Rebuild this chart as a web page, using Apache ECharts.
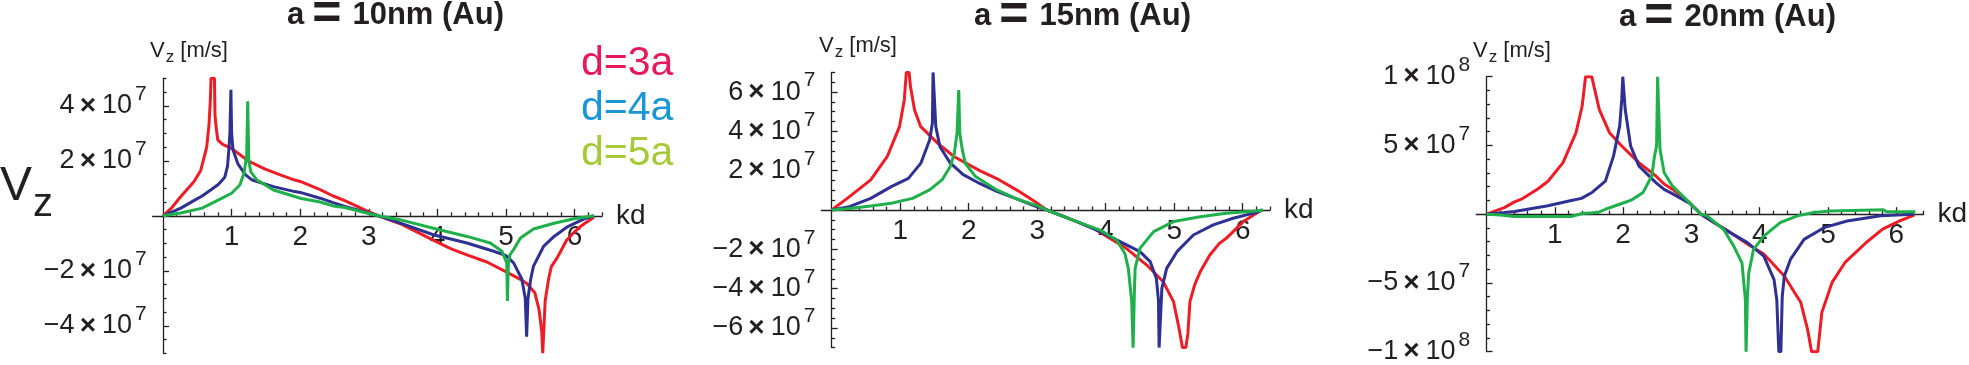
<!DOCTYPE html>
<html><head><meta charset="utf-8">
<script src="https://cdn.jsdelivr.net/npm/echarts@6/dist/echarts.min.js"></script>
<style>html,body{margin:0;padding:0;background:#fff}#c{width:1969px;height:365px}</style>
</head><body><div id="c"></div>
<script>
// ---------- data (y values in units of 10^7 m/s, x = kd) ----------
const seriesNames = ['d=3a', 'd=4a', 'd=5a'];
const panelTitles = [['a', '10nm (Au)'], ['a', '15nm (Au)'], ['a', '20nm (Au)']];
const xRange = [-0.15, 6.4];
const xTicks = [1, 2, 3, 4, 5, 6];
const xMinor = [0.2,0.4,0.6,0.8,1.2,1.4,1.6,1.8,2.2,2.4,2.6,2.8,3.2,3.4,3.6,3.8,4.2,4.4,4.6,4.8,5.2,5.4,5.6,5.8,6.2,6.4];

const p1YRange = [-5, 5];
const p1YTicks = [-4, -2, 2, 4];
const p1YMinor = [-5,-4.5,-3.5,-3,-2.5,-1.5,-1,-0.5,0.5,1,1.5,2.5,3,3.5,4.5,5];
const p2YRange = [-7, 7];
const p2YTicks = [-6, -4, -2, 2, 4, 6];
const p2YMinor = [-7,-6.5,-5.5,-5,-4.5,-3.5,-3,-2.5,-1.5,-1,-0.5,0.5,1,1.5,2.5,3,3.5,4.5,5,5.5,6.5,7];
const p3YRange = [-10, 10];
const p3YTicks = [-10, -5, 5, 10];
const p3YMinor = [-9,-8,-7,-6,-4,-3,-2,-1,1,2,3,4,6,7,8,9];

// panel 1 : a = 10 nm
const p1_d3 = [[0,0],[0.13,0.3],[0.26,0.7],[0.45,1.24],[0.55,1.65],[0.637,2.5],[0.67,3.3],[0.69,4.2],[0.70,5.0],[0.75,5.0],[0.758,3.65],[0.78,3.1],[0.80,2.75],[0.87,2.6],[1.0,2.45],[1.24,2.0],[1.49,1.7],[1.7,1.5],[1.92,1.3],[2.0,1.25],[2.29,0.95],[2.48,0.72],[2.65,0.55],[2.97,0.18],[3.14,0],[3.45,-0.28],[3.75,-0.65],[3.99,-0.95],[4.2,-1.2],[4.43,-1.42],[4.72,-1.68],[5.01,-2.05],[5.2,-2.3],[5.3,-2.45],[5.42,-2.8],[5.48,-3.4],[5.52,-4.2],[5.535,-5.0],[5.56,-5.0],[5.57,-3.1],[5.62,-2.3],[5.66,-1.85],[5.74,-1.55],[5.88,-0.9],[5.97,-0.65],[6.08,-0.4],[6.15,-0.27],[6.28,-0.05]];
const p1_d4 = [[0,0],[0.26,0.28],[0.45,0.55],[0.57,0.72],[0.7,0.95],[0.81,1.15],[0.9,1.4],[0.94,1.8],[0.96,2.4],[0.975,3.0],[0.99,4.58],[1.0,3.0],[1.02,2.4],[1.09,1.9],[1.2,1.5],[1.3,1.3],[1.61,1.06],[1.92,0.88],[2.0,0.85],[2.29,0.64],[2.48,0.48],[2.65,0.34],[2.97,0.12],[3.14,0],[3.45,-0.26],[3.94,-0.69],[4.43,-0.99],[4.82,-1.29],[5.0,-1.45],[5.11,-1.71],[5.23,-2.3],[5.28,-3.0],[5.30,-4.4],[5.32,-3.0],[5.36,-2.3],[5.40,-1.83],[5.55,-1.1],[5.7,-0.75],[5.9,-0.39],[6.13,-0.12],[6.28,0]];
const p1_d5 = [[0,0],[0.26,0.1],[0.57,0.28],[0.81,0.58],[1.0,0.82],[1.12,1.12],[1.18,1.54],[1.22,2.2],[1.235,4.16],[1.25,2.0],[1.28,1.6],[1.37,1.3],[1.61,0.94],[1.92,0.7],[2.0,0.64],[2.29,0.5],[2.48,0.36],[2.65,0.3],[2.97,0.1],[3.14,0],[3.45,-0.14],[3.94,-0.45],[4.43,-0.75],[4.77,-0.99],[4.94,-1.29],[5.01,-1.71],[5.02,-3.1],[5.035,-1.7],[5.06,-1.4],[5.11,-1.23],[5.21,-0.81],[5.4,-0.48],[5.7,-0.27],[5.99,-0.11],[6.28,0]];

// panel 2 : a = 15 nm
const p2_d3 = [[0,0],[0.26,0.68],[0.57,1.53],[0.81,2.71],[0.99,4.24],[1.06,5.6],[1.09,7.0],[1.13,7.0],[1.15,6.28],[1.21,5.09],[1.3,4.24],[1.55,3.39],[1.79,2.71],[2.16,2.0],[2.41,1.6],[2.71,1.0],[3.02,0.3],[3.14,0],[3.33,-0.25],[3.82,-0.93],[4.3,-1.95],[4.6,-2.8],[4.84,-3.65],[4.99,-4.66],[5.07,-6.0],[5.12,-7.0],[5.17,-7.0],[5.2,-6.28],[5.23,-4.66],[5.3,-3.8],[5.38,-3.14],[5.52,-2.29],[5.66,-1.7],[5.76,-1.44],[6.01,-0.59],[6.2,-0.17],[6.28,0]];
const p2_d4 = [[0,0],[0.26,0.17],[0.57,0.59],[0.87,1.19],[1.12,1.61],[1.3,2.37],[1.43,3.56],[1.47,4.41],[1.48,7.0],[1.50,7.0],[1.52,4.24],[1.58,3.22],[1.73,2.4],[1.92,1.8],[2.16,1.35],[2.41,0.95],[2.71,0.55],[2.97,0.2],[3.14,0],[3.58,-0.59],[3.92,-1.1],[4.21,-1.61],[4.5,-2.12],[4.65,-2.63],[4.74,-3.48],[4.77,-4.58],[4.78,-7.0],[4.80,-7.0],[4.82,-3.99],[4.89,-2.97],[5.04,-2.12],[5.28,-1.27],[5.57,-0.76],[5.86,-0.42],[6.2,-0.12],[6.28,0]];
const p2_d5 = [[0,0],[0.26,0.08],[0.57,0.2],[0.87,0.34],[1.18,0.59],[1.43,1.02],[1.61,1.53],[1.73,2.2],[1.79,2.88],[1.83,3.9],[1.855,6.1],[1.87,3.9],[1.9,3.2],[1.95,2.37],[2.1,1.7],[2.41,1.02],[2.71,0.55],[3.02,0.2],[3.14,0],[3.58,-0.59],[3.92,-1.02],[4.16,-1.53],[4.28,-2.21],[4.33,-2.97],[4.38,-4.66],[4.40,-7.0],[4.42,-4.0],[4.43,-2.97],[4.5,-1.95],[4.7,-1.1],[4.99,-0.59],[5.38,-0.34],[5.76,-0.17],[6.2,-0.05],[6.3,0]];

// panel 3 : a = 20 nm
const p3_d3 = [[0,0],[0.26,0.48],[0.41,0.9],[0.51,1.09],[0.75,1.83],[0.9,2.4],[1.12,3.75],[1.31,5.93],[1.40,7.87],[1.45,10],[1.54,10],[1.55,9.8],[1.65,7.63],[1.8,5.93],[1.98,4.96],[2.23,3.75],[2.48,2.78],[2.6,2.2],[2.72,1.82],[2.97,0.85],[3.08,0.3],[3.14,0],[3.46,-1.0],[3.57,-1.34],[3.83,-2.2],[4.06,-2.9],[4.36,-4.5],[4.51,-5.69],[4.6,-6.4],[4.7,-8.35],[4.76,-10],[4.85,-10],[4.91,-7.14],[5.06,-4.96],[5.25,-3.51],[5.56,-2.06],[5.8,-1.09],[6.05,-0.48],[6.27,-0.05]];
const p3_d4 = [[0,0],[0.26,0.12],[0.41,0.2],[0.9,0.61],[1.24,1.0],[1.39,1.15],[1.55,1.6],[1.74,2.4],[1.86,4.24],[1.95,6.42],[1.98,8.35],[1.995,10],[2.01,10],[2.03,7.63],[2.11,4.96],[2.23,3.51],[2.48,2.3],[2.6,1.8],[2.72,1.5],[2.97,0.8],[3.08,0.3],[3.14,0],[3.33,-0.61],[3.57,-1.34],[3.82,-2.07],[4.06,-3.05],[4.21,-4.76],[4.25,-6.22],[4.28,-10],[4.31,-10],[4.33,-6.0],[4.36,-4.51],[4.45,-3.29],[4.65,-1.83],[4.94,-0.98],[5.28,-0.49],[5.77,-0.12],[6.26,0]];
const p3_d5 = [[0,0],[0.2,-0.05],[0.41,-0.17],[1.24,-0.17],[1.4,0.05],[1.63,0.12],[1.74,0.36],[2.02,0.85],[2.11,1.0],[2.29,1.57],[2.42,2.78],[2.46,4.24],[2.49,4.96],[2.505,10],[2.52,10],[2.54,4.72],[2.6,3.03],[2.72,2.06],[2.99,0.75],[3.14,0],[3.23,-0.12],[3.47,-1.1],[3.62,-2.32],[3.74,-3.54],[3.79,-6.2],[3.80,-10],[3.82,-6.0],[3.84,-4.27],[3.91,-2.56],[4.06,-1.59],[4.3,-0.61],[4.55,-0.12],[4.79,0.12],[5.03,0.24],[5.81,0.32],[5.86,0.17],[6.28,0.17]];

// ---------- layout / style ----------
const NARROW = "'Liberation Sans Narrow','Arial Narrow','Liberation Sans',Arial,sans-serif";
const REG = "'Liberation Sans',Arial,sans-serif";
const INK = '#231f20';
const lineColors = ['#ee1d25', '#2e3192', '#1fb04b'];
const legendColors = ['#e8195a', '#1a96d4', '#a6c93a'];

const panels = [
  {grid:{left:152.7, top:78.3, width:449.4, height:275}, yRange:p1YRange, yTicks:p1YTicks, yMinor:p1YMinor, data:[p1_d3,p1_d4,p1_d5], title:{x:287, y:15}, unit:{x:150, y:40}},
  {grid:{left:821.4, top:72.4, width:448.7, height:275.2}, yRange:p2YRange, yTicks:p2YTicks, yMinor:p2YMinor, data:[p2_d3,p2_d4,p2_d5], title:{x:974, y:16}, unit:{x:819, y:35}},
  {grid:{left:1476.3, top:76.7, width:447.3, height:275}, yRange:p3YRange, yTicks:p3YTicks, yMinor:p3YMinor, data:[p3_d3,p3_d4,p3_d5], title:{x:1619, y:17}, unit:{x:1473, y:40}}
];

function yLabel(v) {
  let e = 7, m = v;
  if (Math.abs(v) >= 10) { e = 8; m = v / 10; }
  const s = m < 0 ? '−' : '';
  return '{n|' + s + Math.abs(m) + '}{x|×}{n|10}{s|' + e + '}';
}
const yRich = {
  n: {fontFamily: NARROW, fontSize: 27, lineHeight: 44, color: INK},
  x: {fontFamily: REG, fontWeight: 'bold', fontSize: 28, lineHeight: 44, padding: [0, 6, 0, 5], color: INK},
  s: {fontFamily: NARROW, fontSize: 21, lineHeight: 20, verticalAlign: 'top', padding: [0, 0, 0, 3], color: INK}
};

const grids = [], xAxes = [], yAxes = [], series = [], graphics = [];
panels.forEach((p, i) => {
  grids.push(Object.assign({containLabel: false, outerBoundsMode: 'none'}, p.grid));
  const xi = xAxes.length, yi = yAxes.length;
  const axLine = {color: INK, width: 1.3};
  // x axis sits at y = 0: shift the bottom axis up to the zero line of the y scale
  const zeroOffset = -p.grid.height * (0 - p.yRange[0]) / (p.yRange[1] - p.yRange[0]);
  xAxes.push({
    type: 'value', gridIndex: i, min: xRange[0], max: xRange[1], position: 'bottom', offset: zeroOffset,
    axisLine: {show: true, onZero: false, lineStyle: axLine},
    axisTick: {show: true, inside: true, length: 7, customValues: xTicks, lineStyle: axLine},
    axisLabel: {show: true, customValues: xTicks, margin: 7, fontFamily: NARROW, fontSize: 28, color: INK},
    splitLine: {show: false},
    name: 'kd', nameLocation: 'end', nameGap: 14,
    nameTextStyle: {fontFamily: REG, fontSize: 28, color: INK, verticalAlign: 'middle'}
  });
  xAxes.push({
    type: 'value', gridIndex: i, min: xRange[0], max: xRange[1], position: 'bottom', offset: zeroOffset,
    axisLine: {show: false, onZero: false},
    axisTick: {show: true, inside: true, length: 3.5, customValues: xMinor, lineStyle: axLine},
    axisLabel: {show: false}, splitLine: {show: false}
  });
  yAxes.push({
    type: 'value', gridIndex: i, min: p.yRange[0], max: p.yRange[1], position: 'left',
    axisLine: {show: true, onZero: true, onZeroAxisIndex: xi, lineStyle: axLine},
    axisTick: {show: true, inside: true, length: 6, customValues: p.yTicks, lineStyle: axLine},
    axisLabel: {show: true, customValues: p.yTicks, margin: 6, formatter: yLabel, rich: yRich},
    splitLine: {show: false}
  });
  yAxes.push({
    type: 'value', gridIndex: i, min: p.yRange[0], max: p.yRange[1], position: 'left',
    axisLine: {show: false, onZero: true, onZeroAxisIndex: xi},
    axisTick: {show: true, inside: true, length: 3.5, customValues: p.yMinor, lineStyle: axLine},
    axisLabel: {show: false}, splitLine: {show: false}
  });
  p.data.forEach((d, k) => {
    series.push({
      type: 'line', name: seriesNames[k], xAxisIndex: xi, yAxisIndex: yi, data: d,
      showSymbol: false, symbol: 'none', clip: true, animation: false,
      lineStyle: {width: 3, color: lineColors[k]}, itemStyle: {color: lineColors[k]}
    });
  });
  graphics.push({
    type: 'text', x: p.title.x, y: p.title.y, silent: true,
    style: {text: '{t|' + panelTitles[i][0] + '}{e|=}{t|' + panelTitles[i][1] + '}', align: 'left', verticalAlign: 'middle',
      rich: {
        t: {fontFamily: REG, fontWeight: 'bold', fontSize: 31, lineHeight: 34, fill: INK, color: INK},
        e: {fontFamily: REG, fontWeight: 'bold', fontSize: 50, lineHeight: 34, padding: [0, 11, 0, 8], fill: INK, color: INK}
      }}
  });
  graphics.push({
    type: 'text', x: p.unit.x, y: p.unit.y, silent: true,
    style: {text: '{v|V}{z|z}{u| [m/s]}', align: 'left', verticalAlign: 'top',
      rich: {
        v: {fontFamily: REG, fontSize: 22, lineHeight: 24, verticalAlign: 'top', fill: INK, color: INK},
        z: {fontFamily: REG, fontSize: 17, lineHeight: 17, padding: [9, 0, 0, 1], verticalAlign: 'top', fill: INK, color: INK},
        u: {fontFamily: REG, fontSize: 22, lineHeight: 24, verticalAlign: 'top', fill: INK, color: INK}
      }}
  });
});

// big left label
graphics.push({
  type: 'text', x: 0, y: 163, silent: true,
  style: {text: '{V|V}{z|z}', align: 'left', verticalAlign: 'top',
    rich: {
      V: {fontFamily: REG, fontSize: 48, lineHeight: 50, verticalAlign: 'top', fill: INK, color: INK},
      z: {fontFamily: NARROW, fontSize: 40, lineHeight: 40, padding: [22, 0, 0, 1], verticalAlign: 'top', fill: INK, color: INK}
    }}
});

const chart = echarts.init(document.getElementById('c'), null, {renderer: 'canvas'});
chart.setOption({
  animation: false,
  backgroundColor: '#ffffff',
  grid: grids, xAxis: xAxes, yAxis: yAxes, series: series,
  legend: {
    orient: 'vertical', left: 571, top: 38, itemWidth: 0, itemHeight: 0, itemGap: 4,
    icon: 'rect', selectedMode: false,
    textStyle: {fontFamily: REG, fontSize: 41, lineHeight: 41},
    data: seriesNames.map((n, k) => ({name: n, textStyle: {color: legendColors[k]}}))
  },
  graphic: graphics
});
</script></body></html>
